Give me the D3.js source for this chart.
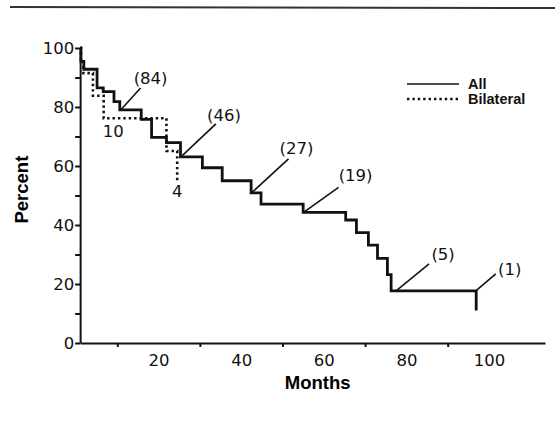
<!DOCTYPE html>
<html>
<head>
<meta charset="utf-8">
<script src="https://cdn.jsdelivr.net/npm/d3@7"></script>
<style>
  body { margin: 0; background: #fff; }
  svg { display: block; }
  .tick text { font-family: "DejaVu Sans", sans-serif; font-size: 16.5px; fill: #111; }
  .axis path, .axis line { stroke: #111; stroke-width: 2; }
</style>
</head>
<body>
<svg></svg>
<script>
// survival steps: month where the curve changes, new percent
let allMonths    = [1, 1.2, 1.9, 5.1, 6.6, 9.2, 10.6, 15.8, 18.3, 21.9, 25.3, 30.6, 35.4, 42.4, 44.8, 55.0, 65.3, 67.9, 70.8, 73.0, 75.4, 76.3, 96.9]
let allPercent   = [100, 95.5, 92.8, 86.5, 85.2, 81.8, 79.0, 75.8, 69.7, 67.9, 63.1, 59.4, 55.0, 50.9, 47.1, 44.3, 41.7, 37.4, 33.2, 28.7, 23.2, 17.7, 11.0]

let bilatMonths  = [1, 1.2, 1.8, 4.1, 6.7, 21.9, 24.5]
let bilatPercent = [100, 95.5, 91.5, 83.8, 76.2, 65.1, 54.6]

// numbers at risk, all patients
let riskMonths = [10.8, 25.4, 42.5, 55.1, 77.5, 96.8]
let riskCounts = [84, 46, 27, 19, 5, 1]

// numbers at risk, bilateral
let bilatRiskMonths = [9, 24.5]
let bilatRiskCounts = [10, 4]

let yTicks = [0, 10, 20, 30, 40, 50, 60, 70, 80, 90, 100]
let yLabels = [0, 20, 40, 60, 80, 100]
let xMinorTicks = [10, 30, 50, 70, 90]
let xLabels = [20, 40, 60, 80, 100]

// pointer line end and label centre, px from the curve point
let pointerEnd = [[20, -22], [35, -33], [37, -34], [35, -25], [33, -27], [20, -17]]
let labelAt = [[30, -32], [43, -42], [45, -45], [52, -37], [47, -37], [34, -22]]
let bilatLabelDy = [19, 15]

let width = 555
let height = 426

let svg = d3.select('svg')
    .attr('width', width)
    .attr('height', height)

let xScale = d3.scaleLinear().domain([0, 100]).range([76, 489])
let yScale = d3.scaleLinear().domain([0, 100]).range([343, 48])

let toPoints = (ms, ps) => ms.map((m, i) => [m, ps[i]])
let allData = toPoints(allMonths, allPercent)
let bilatData = toPoints(bilatMonths, bilatPercent)

let valueAt = (data, m) => {
    let v = data[0][1]
    data.forEach(d => { if (d[0] <= m) v = d[1] })
    return v
}

// rule across the top of the page
svg.append('line')
   .attr('x1', 10).attr('x2', 555)
   .attr('y1', 7).attr('y2', 8)
   .attr('stroke', '#333')
   .attr('stroke-width', 2)

let drawAxes = () => {
    let yAxis = d3.axisLeft(yScale)
        .tickValues(yTicks)
        .tickSize(5)
        .tickPadding(1)
        .tickSizeOuter(0)
        .tickFormat(d => yLabels.includes(d) ? d : '')

    svg.append('g')
       .attr('class', 'axis')
       .attr('transform', 'translate(' + xScale(1) + ',0)')
       .call(yAxis)

    let xEnd = 545
    let xAxisScale = xScale.copy().domain([1, xScale.invert(xEnd)]).range([xScale(1), xEnd])

    svg.append('g')
       .attr('class', 'axis')
       .attr('transform', 'translate(0,' + yScale(0) + ')')
       .call(d3.axisBottom(xAxisScale).tickValues(xMinorTicks).tickSize(4).tickSizeOuter(0).tickFormat(''))

    svg.append('g')
       .attr('class', 'axis')
       .attr('transform', 'translate(0,' + yScale(0) + ')')
       .call(d3.axisBottom(xAxisScale).tickValues(xLabels).tickSize(0).tickPadding(11))
       .select('.domain').remove()

    svg.append('text')
       .attr('transform', 'translate(28,' + yScale(52) + ') rotate(-90)')
       .attr('text-anchor', 'middle')
       .style('font-family', '"Liberation Sans", Arial, sans-serif')
       .style('font-weight', 'bold')
       .style('font-size', '18.5px')
       .text('Percent')

    svg.append('text')
       .attr('x', xScale(58.5))
       .attr('y', 389)
       .attr('text-anchor', 'middle')
       .style('font-family', '"Liberation Sans", Arial, sans-serif')
       .style('font-weight', 'bold')
       .style('font-size', '18.5px')
       .text('Months')
}

let drawCurves = () => {
    let line = d3.line()
        .x(d => xScale(d[0]))
        .y(d => yScale(d[1]))
        .curve(d3.curveStepAfter)

    svg.append('path')
       .datum(bilatData)
       .attr('d', line)
       .attr('fill', 'none')
       .attr('stroke', '#111')
       .attr('stroke-width', 2.6)
       .attr('stroke-dasharray', '2.4,3')

    svg.append('path')
       .datum(allData)
       .attr('d', line)
       .attr('fill', 'none')
       .attr('stroke', '#111')
       .attr('stroke-width', 2.8)
}

let drawLabels = () => {
    riskMonths.forEach((m, i) => {
        let px = xScale(m)
        let py = yScale(valueAt(allData, m))
        svg.append('line')
           .attr('x1', px).attr('y1', py)
           .attr('x2', px + pointerEnd[i][0]).attr('y2', py + pointerEnd[i][1])
           .attr('stroke', '#111')
           .attr('stroke-width', 1.6)
        svg.append('text')
           .attr('x', px + labelAt[i][0])
           .attr('y', py + labelAt[i][1] + 6)
           .attr('text-anchor', 'middle')
           .style('font-family', '"DejaVu Sans", sans-serif')
           .style('font-size', '16.5px')
           .attr('fill', '#111')
           .text('(' + riskCounts[i] + ')')
    })

    bilatRiskMonths.forEach((m, i) => {
        svg.append('text')
           .attr('x', xScale(m))
           .attr('y', yScale(valueAt(bilatData, m)) + bilatLabelDy[i])
           .attr('text-anchor', 'middle')
           .style('font-family', '"DejaVu Sans", sans-serif')
           .style('font-size', '16.5px')
           .attr('fill', '#111')
           .text(bilatRiskCounts[i])
    })
}

let drawLegend = () => {
    let entries = [['All', null], ['Bilateral', '2.4,3']]
    let lg = svg.append('g').attr('transform', 'translate(407,84)')
    entries.forEach((e, i) => {
        lg.append('line')
          .attr('x1', 0).attr('x2', 52)
          .attr('y1', i * 15).attr('y2', i * 15)
          .attr('stroke', '#111')
          .attr('stroke-width', e[1] ? 2.4 : 1.6)
          .attr('stroke-dasharray', e[1])
        lg.append('text')
          .attr('x', 61)
          .attr('y', i * 15 + 5)
          .style('font-family', '"Liberation Sans", Arial, sans-serif')
          .style('font-weight', 'bold')
          .style('font-size', '14.5px')
          .attr('fill', '#111')
          .text(e[0])
    })
}

drawAxes()
drawCurves()
drawLabels()
drawLegend()
</script>
</body>
</html>
